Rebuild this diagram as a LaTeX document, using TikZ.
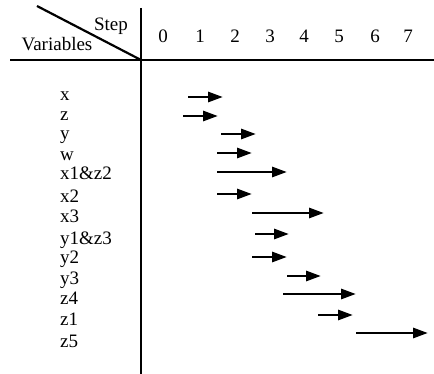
\documentclass[tikz,border=0pt]{standalone}
\usepackage{fontspec}
\setmainfont{Liberation Serif}
\usetikzlibrary{arrows.meta}
\begin{document}
\begin{tikzpicture}[x=1pt,y=-1pt,
  rule/.style={line width=2.4pt,black},
  varlabel/.style={anchor=base west,inner sep=0pt,font=\fontsize{19}{19}\selectfont},
  steplabel/.style={anchor=base,inner sep=0pt,font=\fontsize{19}{19}\selectfont},
  steparrow/.style={line width=2.8pt,-{Triangle[length=15pt,width=10pt]}}]
\useasboundingbox (0,0) rectangle (434,374);

% header rules
\coordinate (hl) at (10,60);
\coordinate (hr) at (434,60);
\coordinate (vt) at (141,8);
\coordinate (vb) at (141,374);
\coordinate (dg) at (37,6);
\coordinate (cr) at (141,60);
\draw[rule] (hl) -- (hr);
\draw[rule] (vt) -- (vb);
\draw[line width=2.2pt] (dg) -- (cr);

\node[steplabel] (steph) at (111,31) {Step};
\node[steplabel] (varh) at (57,51) {Variables};

% step numbers
\foreach \s/\xx in {0/163,1/200,2/235,3/270,4/304,5/339,6/375,7/408}
  \node[steplabel] (n\s) at (\xx,43) {\s};

% variable names and their arrows
\foreach \v/\ly/\ay/\xa/\xb [count=\i] in
  {x/101/97/188/223,
   z/121/116/183/218,
   y/140/134/221/256,
   w/161/153/217/252,
   x1\&z2/180/172/217/287,
   x2/203/194/217/252,
   x3/223/213/252/324,
   y1\&z3/245/234/255/289,
   y2/264/257/252/287,
   y3/285/276/287/321,
   z4/305/294/283/356,
   z1/326/315/318/353,
   z5/347/333/356/428}
{
  \node[varlabel] (v\i) at (60,\ly) {\v};
  \coordinate (a\i) at (\xa,\ay);
  \coordinate (b\i) at (\xb,\ay);
  \draw[steparrow] (a\i) -- (b\i);
}
\end{tikzpicture}
\end{document}
